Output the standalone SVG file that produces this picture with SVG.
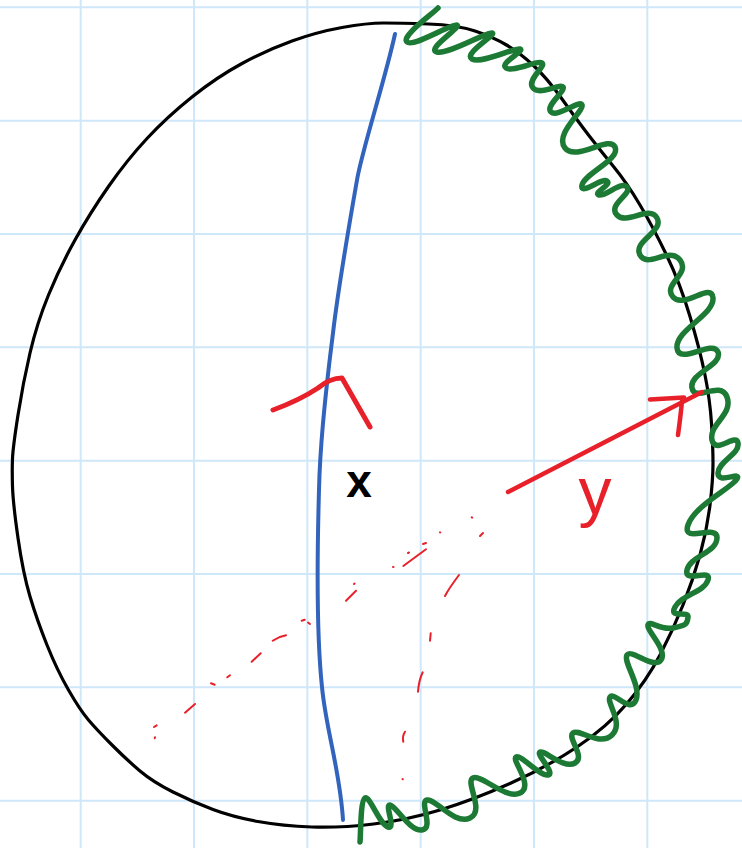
<svg xmlns="http://www.w3.org/2000/svg" width="742" height="848" viewBox="0 0 742 848">
<style>
.grid{stroke:#cfe8f9;stroke-width:2;fill:none}
.ink{fill:none;stroke-linecap:round;stroke-linejoin:round}
.red{stroke:#e8202a}
.dash{fill:none;stroke:#e8202a;stroke-width:2;stroke-linecap:round}
.lbl{font-family:"Liberation Sans",Arial,sans-serif;text-anchor:middle}
</style>
<rect x="0" y="0" width="742" height="848" fill="#ffffff"/>
<g id="grid" class="grid">
<path d="M80.7,0V848M194,0V848M307.3,0V848M420.7,0V848M534,0V848M647.3,0V848"/>
<path d="M0,7.3H742M0,120.7H742M0,234H742M0,347.3H742M0,460.7H742M0,574H742M0,687.3H742M0,800.7H742"/>
</g>
<g id="outline">
<path class="ink" stroke="#000" stroke-width="3.2" d="M383.5,23 Q400,23 428.5,24 Q457,25 475,31 Q493,37 506.5,45 Q520,53 533.5,65.5 Q547,78 562,99 Q577,120 588.5,135 Q600,150 613.5,166.5 Q627,183 640,205 Q653,227 666.5,255 Q680,283 690,316.5 Q700,350 705,375 Q710,400 711.5,423.5 Q713,447 713,463.5 Q713,480 710,505 Q707,530 700,555 Q693,580 683,605 Q673,630 660,655 Q647,680 627,703.5 Q607,727 577,747 Q547,767 510,783.5 Q473,800 440,810 Q407,820 373.5,824 Q340,828 311.5,827 Q283,826 258,821.5 Q233,817 213,809.5 Q193,802 173,792 Q153,782 140,771 Q127,760 112,745 Q97,730 88.5,720 Q80,710 68.5,690 Q57,670 47,645 Q37,620 30,596.5 Q23,573 18,538 Q13,503 12.5,486.5 Q12,470 12.5,458.5 Q13,447 18,415 Q23,383 30,353 Q37,323 48.5,295 Q60,267 75,240 Q90,213 108.5,186.5 Q127,160 147,138.5 Q167,117 192,97 Q217,77 242,63.5 Q267,50 292,41 Q317,32 342,27.5 Q367,23 383.5,23 Z"/>
</g>
<g id="blue-line">
<path class="ink" stroke="#3264be" stroke-width="4" d="M395,34 C385,80 362,150 357,180 C350,220 338,290 333,333 C327,380 320,440 319,490 C317,560 317,640 322,687 C326,730 340,770 343,820"/>
</g>
<g id="coil">
<path class="ink" stroke="#1c7a35" stroke-width="5.5" d="M438,8 C432.8,13.7 400.6,36.4 407,42 C413.4,47.6 452,23.3 457,25 C462,26.7 425.4,49.4 437,52 C448.6,54.6 486.2,31.8 492,33 C497.8,34.2 462.6,53.6 472,59 C481.4,64.4 514.3,47.5 520,49 C525.7,50.5 498.6,63.4 506,68 C513.4,72.6 537.5,59.7 542,63 C546.5,66.3 526,80 533,88 C540,96 560,83 563,87 C566,91 544.6,106 551,112 C557.4,118 579.7,99 582,105 C584.3,111 554,134 565,148 C576,162 609.4,134.6 615,147 C620.6,159.4 584.6,173.6 582,185 C579.4,196.4 601.4,177.6 607,181 C612.6,184.4 592.4,193 599,195 C605.6,197 621,180.4 627,187 C633,193.6 607,204.6 617,215 C627,225.4 649.4,204.6 657,218 C664.6,231.4 632.4,241 640,255 C647.6,269 669,246 680,260 C691,274 662,284.4 673,297 C684,309.6 711.6,281 713,298 C714.4,315 675.4,330 677,348 C678.6,366 713,338.6 718,352 C723,365.4 689,373 692,388 C695,403 720.4,379.6 727,397 C733.6,414.4 708.4,424.6 712,440 C715.6,455.4 736,432 738,443 C740,454 718.4,461 718,473 C717.6,485 742,470.3 737,479 C732,487.7 694.6,505.4 688,525 C681.4,544.6 717.4,523 717,538 C716.6,553 690,556 687,570 C684,584 712,567.6 708,580 C704,592.4 681.6,594.6 675,607 C668.4,619.4 688.6,610 688,617 C687.4,624 686.4,625.4 673,628 C659.6,630.6 650,619.7 648,625 C646,630.3 668,650 661,660 C654,670 631.2,648.3 627,655 C622.8,661.7 641.6,686 636,700 C630.4,714 614,691.2 610,697 C606,702.8 624.4,723 612,735 C599.6,747 579.2,728.3 573,733 C566.8,737.7 586,756.6 575,763 C564,769.4 544.5,750 540,752 C535.5,754 556,773.4 548,775 C540,776.6 520.7,754 516,757 C511.3,760 534.4,786 520,793 C505.6,800 481.3,773.8 473,778 C464.7,782.2 485.4,810.6 470,818 C454.6,825.4 435,798 427,800 C419,802 434.4,828.4 422,830 C409.6,831.6 395.7,805.5 390,805 C384.3,804.5 396.4,829.4 388,827 C379.6,824.6 369.7,795.5 365,798 C360.3,800.5 360.8,834.7 360,842"/>
</g>
<g id="dashed-lines" class="dash">
<path d="M471.7,517.3l0.5,0.3"/>
<path d="M440,532.3l0.3,0.2"/>
<path d="M480,536l3,-3"/>
<path d="M423,544l3,-1"/>
<path d="M403.3,566L426,549.3"/>
<path d="M408,553l1,-0.5"/>
<path d="M393,567l0.5,0"/>
<path d="M354,584l0.5,-0.5"/>
<path d="M346,600.7L356,590.7"/>
<path d="M301.7,620.7l3,-1 M308,622.5l2,1.5"/>
<path d="M272.7,640.7C278,637 282,636 286,635.3"/>
<path d="M251.7,661.7L260.7,653.3"/>
<path d="M227.3,677.3L230,675.3"/>
<path d="M211,683.3L214.7,684.7"/>
<path d="M185,712.7L195,704"/>
<path d="M154,727l2.7,-1.7 M154.7,738.3l0.3,-1"/>
<path d="M459,575C453,583 448,590 445,596"/>
<path d="M430.7,633.3L430,640.7"/>
<path d="M422.7,672.3C420,678 418.5,685 418,691.7"/>
<path d="M405,731.7C403.5,734 402.5,738 403.3,741.7"/>
<path d="M402.5,779l0.3,0.3"/>
</g>
<g id="red-hat">
<path class="ink red" stroke-width="5" d="M273,410 Q300,400 318,388 Q330,378 342,378 L370,427"/>
</g>
<g id="arrow">
<path class="ink red" stroke-width="4.5" d="M508,492 L702,392 M650,399.5 L684,397.5 M682,401 C681,412 679.5,424 678,435"/>
</g>
<g id="labels">
<text class="lbl" x="359" y="497" font-size="46" font-weight="bold" fill="#000">x</text>
<text class="lbl" x="595" y="514" font-size="66" fill="#e8202a">y</text>
</g>
</svg>
